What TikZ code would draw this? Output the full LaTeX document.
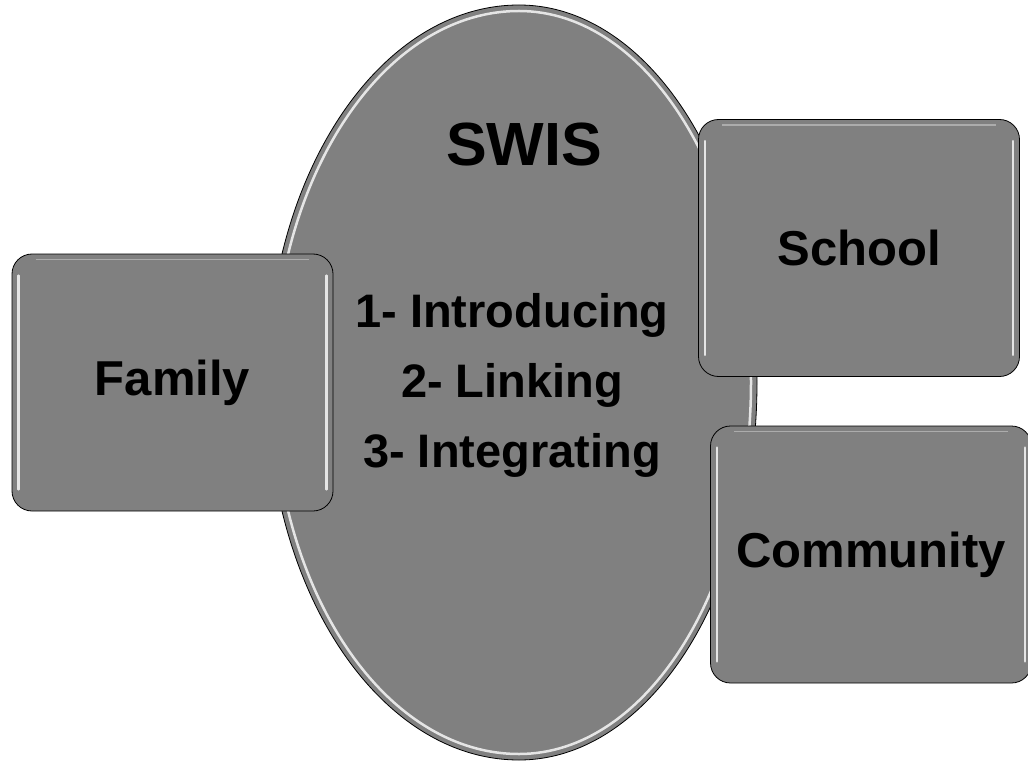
\documentclass[tikz,border=0pt]{standalone}
\usepackage{fontspec}
\setmainfont{Liberation Sans}
\definecolor{boxgray}{HTML}{808080}

\begin{document}
\begin{tikzpicture}
    [x=1pt,y=-1pt,
     every node/.style={font=\bfseries, inner sep=0pt},
     panel/.style={rectangle, rounded corners=20pt, draw=black, fill=boxgray, line width=0.8pt,
       minimum width=321pt, minimum height=257pt, font=\fontsize{49}{49}\bfseries},
     gloss/.style={white, line width=2.5pt, opacity=0.8, line cap=round}]
    \useasboundingbox (0,0) rectangle (1028,762);
    % the big oval in the middle, a bit fuller on its left side
    \coordinate (swis) at (519,382.5);
    \draw[fill=boxgray, line width=0.8pt] (519,760)
      arc[start angle=90, end angle=270, x radius=252, y radius=377.5]
      arc[start angle=270, end angle=450, x radius=238, y radius=377.5] -- cycle;
    \draw[gloss] (519,754)
      arc[start angle=90, end angle=270, x radius=246, y radius=371.5]
      arc[start angle=270, end angle=450, x radius=232, y radius=371.5];
    \node (title) at (524,145) {\fontsize{61}{61}\selectfont SWIS};
    \node[align=center, font=\fontsize{47}{70}\bfseries] (steps) at (512,385)
      {1- Introducing\\2- Linking\\3- Integrating};
    % the three boxes round it
    \node[panel] (family) at (172.5,382.5) {Family};
    \node[panel] (school) at (859,248) {School};
    \node[panel] (community) at (871,554.5) {Community};
    \foreach \n in {family,school,community} {
      \draw[gloss] ([shift={(7,22)}]\n.north west) -- ([shift={(7,-22)}]\n.south west);
      \draw[gloss] ([shift={(-7,22)}]\n.north east) -- ([shift={(-7,-22)}]\n.south east);
      \draw[white, opacity=0.35, line width=1.5pt] ([shift={(24,6)}]\n.north west) -- ([shift={(-24,6)}]\n.north east);
    }
  \end{tikzpicture}
\end{document}
